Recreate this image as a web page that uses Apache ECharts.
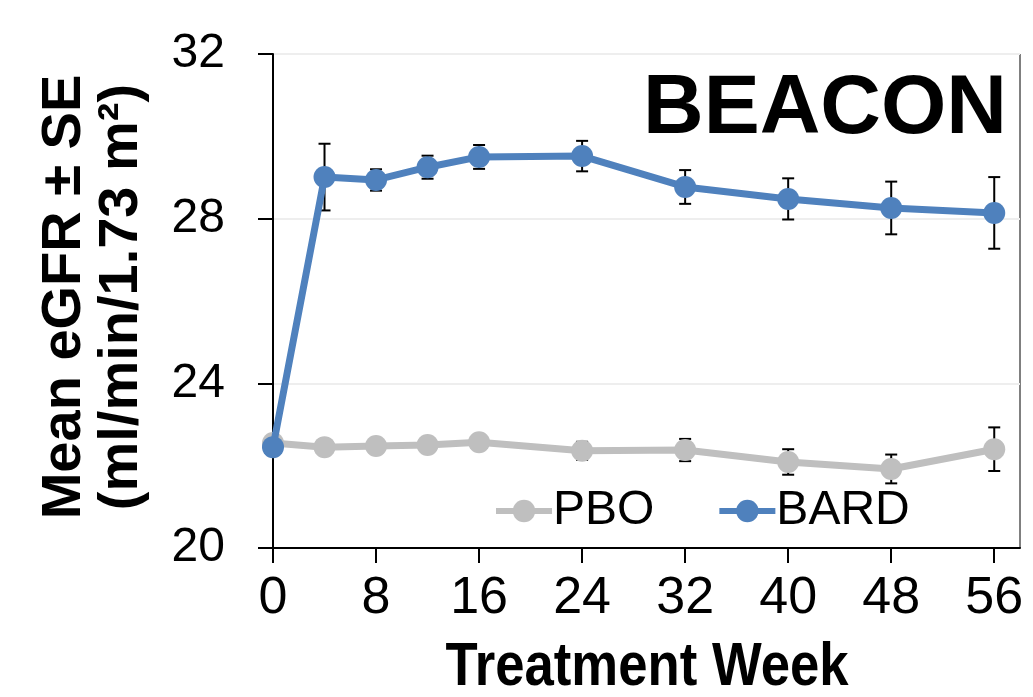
<!DOCTYPE html>
<html>
<head>
<meta charset="utf-8">
<script src="https://cdn.jsdelivr.net/npm/echarts@6/dist/echarts.min.js"></script>
<style>
  html, body { margin: 0; padding: 0; background: #fff; }
  #chart { width: 1033px; height: 697px; }
</style>
</head>
<body>
<div id="chart"></div>
<script>
// treatment weeks
const weeks = [0, 4, 8, 12, 16, 24, 32, 40, 48, 56];
// mean eGFR per arm
const pboMean = [22.55, 22.45, 22.48, 22.5, 22.57, 22.36, 22.38, 22.09, 21.92, 22.4];
const bardMean = [22.45, 29.01, 28.94, 29.25, 29.5, 29.52, 28.77, 28.48, 28.26, 28.14];
// standard errors
const pboSE = [0, 0.18, 0.18, 0.18, 0.18, 0.22, 0.27, 0.31, 0.35, 0.53];
const bardSE = [0, 0.81, 0.26, 0.28, 0.29, 0.37, 0.41, 0.5, 0.64, 0.87];
// axis ticks
const xTicks = [0, 8, 16, 24, 32, 40, 48, 56];
const yTicks = [20, 24, 28, 32];

const BLUE = "#4F81BD";
const GRAY = "#BFBFBF";
const FONT = "Liberation Sans, Arial, sans-serif";

const chart = echarts.init(document.getElementById("chart"));

// error bars drawn with a custom series
const errorBars = (name, mean, se) => ({
  name: name + " SE",
  type: "custom",
  z: 1,
  silent: true,
  data: weeks.map((w, i) => [w, mean[i], se[i]]),
  renderItem: (params, api) => {
    const x = api.value(0);
    const y = api.value(1);
    const e = api.value(2);
    const top = api.coord([x, y + e]);
    const bot = api.coord([x, y - e]);
    const half = 6;
    const style = { stroke: "#000", lineWidth: 2 };
    return {
      type: "group",
      children: [
        { type: "line", shape: { x1: top[0], y1: top[1], x2: bot[0], y2: bot[1] }, style },
        { type: "line", shape: { x1: top[0] - half, y1: top[1], x2: top[0] + half, y2: top[1] }, style },
        { type: "line", shape: { x1: bot[0] - half, y1: bot[1], x2: bot[0] + half, y2: bot[1] }, style },
      ],
    };
  },
});

const lineSeries = (name, mean, color, z) => ({
  name: name,
  type: "line",
  z: z,
  data: weeks.map((w, i) => [w, mean[i]]),
  symbol: "circle",
  symbolSize: 22,
  lineStyle: { color: color, width: 7 },
  itemStyle: { color: color },
  emphasis: { disabled: true },
});

chart.setOption({
  animation: false,
  textStyle: { fontFamily: FONT },
  grid: {
    left: 273,
    right: 13,
    top: 54,
    bottom: 149,
    outerBoundsMode: "none",
    containLabel: false,
    show: true,
    borderColor: "#000",
    borderWidth: 1,
  },
  legend: {
    left: 488,
    top: 482,
    itemWidth: 56,
    itemHeight: 28,
    itemGap: 62,
    data: ["PBO", "BARD"],
    lineStyle: { width: 6 },
    textStyle: { fontSize: 48, color: "#000", padding: [0, 0, 0, -4] },
  },
  xAxis: {
    type: "value",
    min: 0,
    max: 58,
    interval: 8,
    axisLine: { onZero: false, lineStyle: { color: "#000", width: 2 } },
    axisTick: { show: true, length: 15, inside: false, customValues: xTicks, lineStyle: { color: "#000", width: 2 } },
    axisLabel: {
      customValues: xTicks,
      margin: 25,
      fontSize: 52,
      color: "#000",
    },
    splitLine: { show: false },
  },
  yAxis: {
    type: "value",
    min: 20,
    max: 32,
    interval: 4,
    axisLine: { show: true, lineStyle: { color: "#000", width: 2 } },
    axisTick: { show: true, length: 15, customValues: yTicks, lineStyle: { color: "#000", width: 2 } },
    axisLabel: { customValues: yTicks, margin: 48, fontSize: 48, color: "#000" },
    splitLine: { show: true, lineStyle: { color: "#EEEEEE", width: 2 } },
  },
  graphic: [
    {
      type: "text",
      left: 643,
      top: 68,
      style: {
        text: "BEACON",
        font: "bold 84px " + FONT,
        fill: "#000",
      },
    },
    {
      type: "text",
      x: 93,
      y: 297,
      rotation: Math.PI / 2,
      style: {
        text: "Mean eGFR ± SE\n(ml/min/1.73 m²)",
        font: "bold 56px " + FONT,
        lineHeight: 57,
        align: "center",
        verticalAlign: "middle",
        fill: "#000",
      },
    },
    {
      // x axis title, squeezed like the narrow face in the original
      type: "text",
      x: 647,
      y: 668,
      scaleX: 0.85,
      style: {
        text: "Treatment Week",
        font: "bold 62px " + FONT,
        align: "center",
        verticalAlign: "middle",
        fill: "#000",
      },
    },
  ],
  series: [
    errorBars("PBO", pboMean, pboSE),
    errorBars("BARD", bardMean, bardSE),
    lineSeries("PBO", pboMean, GRAY, 3),
    lineSeries("BARD", bardMean, BLUE, 4),
  ],
});
</script>
</body>
</html>
